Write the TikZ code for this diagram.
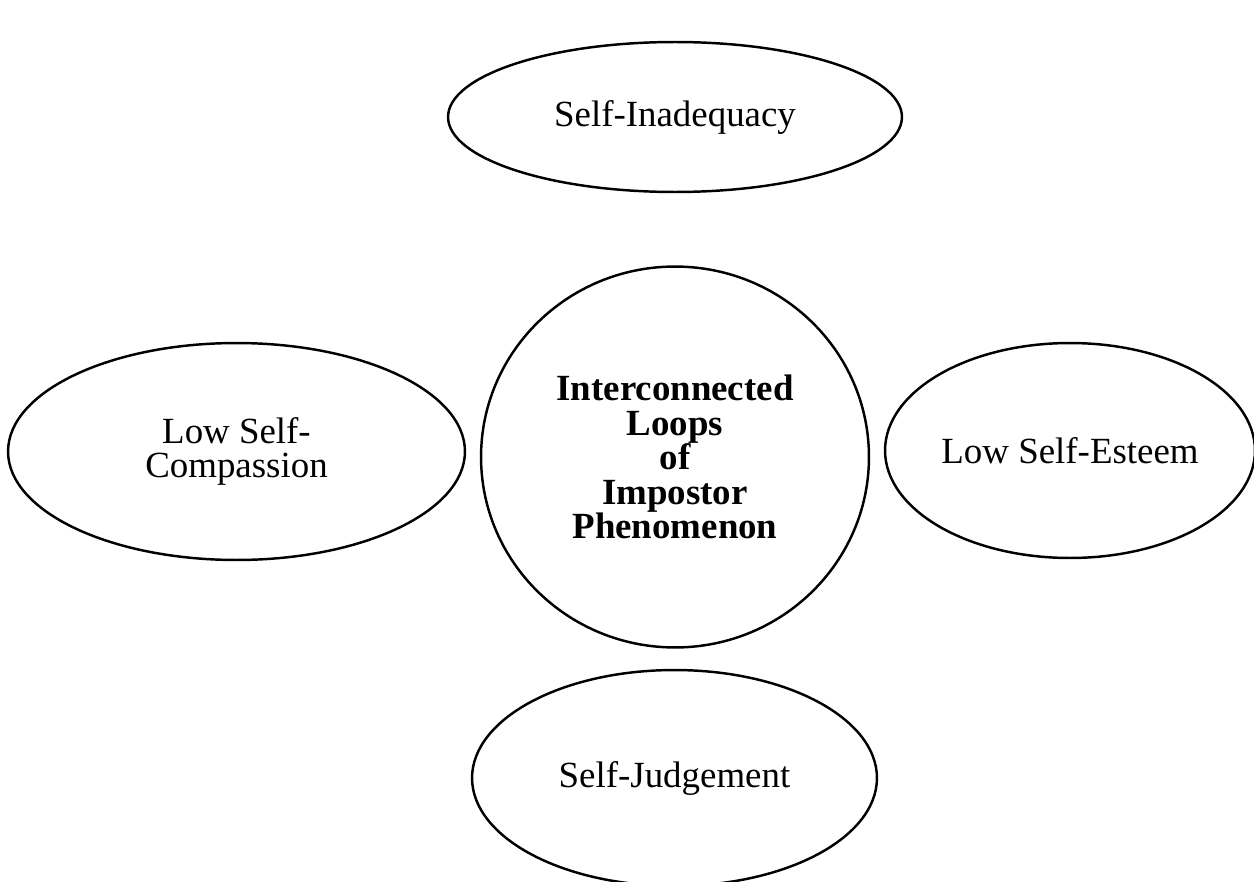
\documentclass[tikz,border=0pt]{standalone}
\usepackage{fontspec}
\setmainfont{Liberation Serif}
\usetikzlibrary{shapes.geometric}

\begin{document}
\begin{tikzpicture}[ x=0.02cm, y=-0.02cm,
    loop/.style={draw, ellipse, line width=1.4pt, inner sep=0pt, align=center, font=\fontsize{21}{19.7}\selectfont},
    core/.style={loop, font=\fontsize{21}{19.7}\selectfont\bfseries} ]
    \useasboundingbox (0,0) rectangle (1254,882);

    % Centre
    \node[core, minimum width=7.76cm, minimum height=7.62cm] (impostor) at (675,457) {Interconnected\\Loops\\of\\Impostor\\Phenomenon};

    % --- Loops round it ---
    \node[loop, minimum width=9.08cm, minimum height=3.0cm] (inadequacy) at (675,117) {Self-Inadequacy};
    \node[loop, minimum width=9.14cm, minimum height=4.34cm] (compassion) at (236.5,451.5) {Low Self-\\Compassion};
    \node[loop, minimum width=7.4cm, minimum height=4.3cm] (esteem) at (1070,450.5) {Low Self-Esteem};
    \node[loop, minimum width=8.1cm, minimum height=4.32cm] (judgement) at (674.5,778) {Self-Judgement};
\end{tikzpicture}
\end{document}
